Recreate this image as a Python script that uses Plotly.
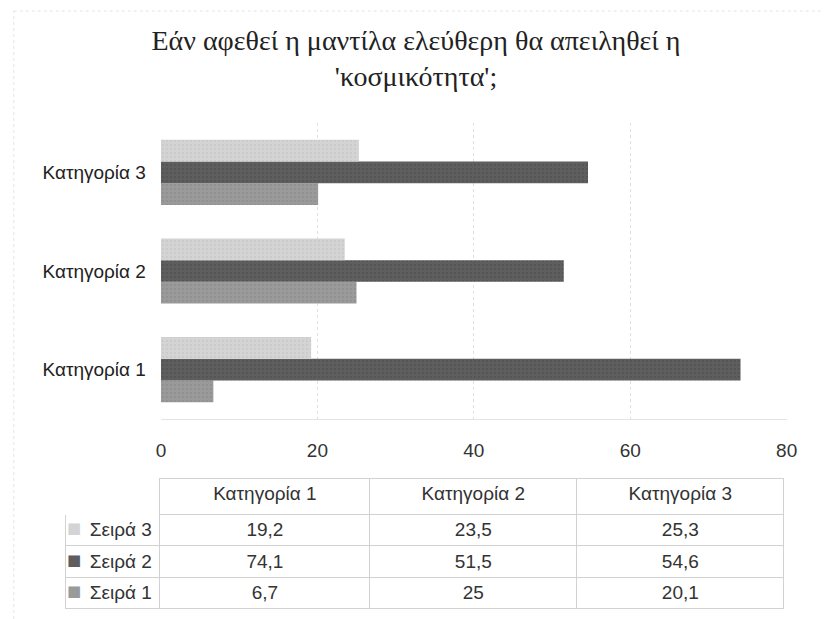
import plotly.graph_objects as go

categories = ["Κατηγορία 1", "Κατηγορία 2", "Κατηγορία 3"]
series_names = ["Σειρά 1", "Σειρά 2", "Σειρά 3"]
seira1 = [6.7, 25, 20.1]
seira2 = [74.1, 51.5, 54.6]
seira3 = [19.2, 23.5, 25.3]
tick_vals = [0, 20, 40, 60, 80]
tick_text = ["0", "20", "40", "60", "80"]
title_text = "Εάν αφεθεί η μαντίλα ελεύθερη θα απειληθεί η<br>'κοσμικότητα';"

colors = ["#9a9a9a", "#5e5e5e", "#d4d4d4"]
dots = ["#858585", "#4a4a4a", "#bfbfbf"]
values = [seira1, seira2, seira3]

W, H = 832, 619
fig = go.Figure()
for name, vals, c, d in zip(series_names, values, colors, dots):
    fig.add_trace(go.Bar(
        y=categories, x=vals, name=name, orientation="h",
        marker=dict(color=c, line=dict(width=0),
                    pattern=dict(shape=".", fgcolor=d, size=4, solidity=0.25)),
        showlegend=False,
    ))

def fmt(v):
    return str(v).replace(".", ",")

# table: legend column + one column per category, rows Σειρά 3, 2, 1
row_order = [2, 1, 0]
nb = "\u00a0"
legend_col = [series_names[i].replace(" ", nb) for i in row_order]
cat_cols = [[fmt(values[i][j]) for i in row_order] for j in range(len(categories))]
grid = "#d2d2d2"
tfont = dict(family="Liberation Sans, Arial", size=19, color="#333")
tdom_y = [1 - 614 / H, 1 - 478 / H]
fig.add_trace(go.Table(
    domain=dict(x=[62 / W, 795 / W], y=tdom_y),
    columnwidth=[95, 212, 209, 209],
    header=dict(values=[""] + categories, height=36,
                align="center",
                fill=dict(color="white"),
                line=dict(color=["white", grid, grid, grid], width=1),
                font=tfont),
    cells=dict(values=[legend_col] + cat_cols, height=31.5,
               align=["right", "center", "center", "center"],
               fill=dict(color="white"),
               line=dict(color=grid, width=1),
               font=tfont),
))
# legend keys (coloured squares) overlaid on the legend column
fig.add_trace(go.Table(
    domain=dict(x=[55 / W, 82 / W], y=tdom_y),
    header=dict(values=[""], height=36, fill=dict(color="rgba(0,0,0,0)"),
                line=dict(color="rgba(0,0,0,0)", width=0)),
    cells=dict(values=[["■"] * 3], height=31.5, align="left",
               fill=dict(color="rgba(0,0,0,0)"),
               line=dict(color="rgba(0,0,0,0)", width=0),
               font=dict(family="DejaVu Sans", size=15,
                         color=[[colors[i] for i in row_order]])),
))

fig.update_layout(
    width=W, height=H,
    margin=dict(l=0, r=0, t=0, b=0),
    paper_bgcolor="white", plot_bgcolor="white",
    barmode="group", bargap=0.34, bargroupgap=0,
    title=dict(text=title_text, x=0.5, xanchor="center", y=1 - 50 / H, yanchor="middle",
               font=dict(family="Liberation Serif, Times New Roman", size=28, color="#222")),
    xaxis=dict(domain=[159 / W, 797 / W], range=[0, 80], tickvals=tick_vals, ticktext=tick_text,
               showgrid=True, gridcolor="#e0e0e0", griddash="dot", gridwidth=1,
               zeroline=False, showline=True, linecolor="#e4e4e4", linewidth=1,
               ticks="", ticklabelstandoff=14,
               tickfont=dict(family="Liberation Sans, Arial", size=19, color="#333")),
    yaxis=dict(domain=[1 - 419 / H, 1 - 123 / H], showgrid=False, zeroline=False,
               ticks="", ticklabelstandoff=14,
               tickfont=dict(family="Liberation Sans, Arial", size=19, color="#222")),
    shapes=[
        dict(type="line", xref="paper", yref="paper", x0=9 / W, x1=1, y0=1 - 11 / H, y1=1 - 11 / H,
             line=dict(color="#e4e4e4", width=1, dash="dot")),
        dict(type="line", xref="paper", yref="paper", x0=9 / W, x1=9 / W, y0=0, y1=1 - 11 / H,
             line=dict(color="#e4e4e4", width=1, dash="dot")),
    ],
)

fig.write_html("out.html", config={"displayModeBar": False},
               post_script="document.body.style.margin='0';")
